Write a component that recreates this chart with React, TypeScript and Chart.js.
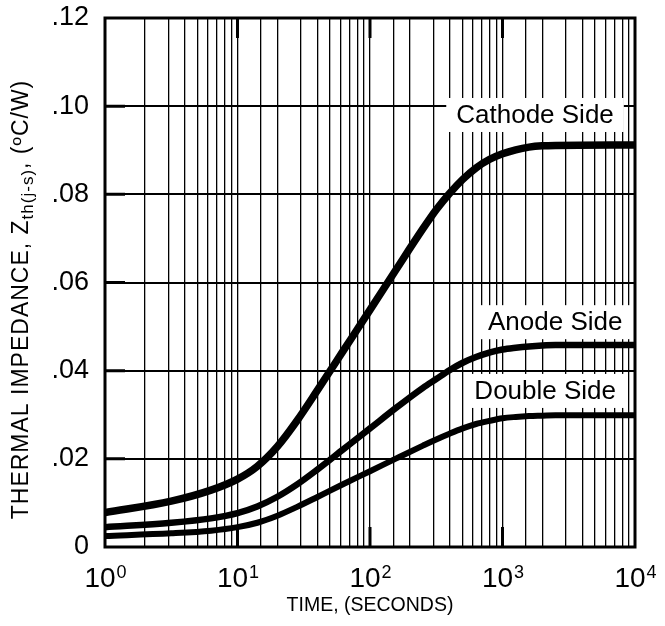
import { useEffect, useRef } from 'react';
import { Chart, registerables } from 'chart.js';

Chart.register(...registerables);

// ---- data ----
const times = [1, 3.16, 6.31, 10, 14.1, 20, 28.2, 39.8, 63.1, 100, 158, 251, 316, 398, 501, 631, 794, 1000, 1259, 1585, 1995, 2512, 10000];
const cathode = [0.0078, 0.0104, 0.0129, 0.0154, 0.0183, 0.0228, 0.0287, 0.0354, 0.0446, 0.0538, 0.0630, 0.0722, 0.0765, 0.0802, 0.0834, 0.0860, 0.0879, 0.0892, 0.0901, 0.0907, 0.0910, 0.0911, 0.0912];
const anode = [0.0045, 0.0055, 0.0065, 0.0077, 0.0092, 0.0114, 0.0142, 0.0175, 0.0222, 0.0269, 0.0316, 0.0361, 0.0381, 0.0401, 0.0418, 0.0431, 0.0441, 0.0448, 0.0452, 0.0455, 0.0457, 0.0458, 0.0458];
const doubleSide = [0.0025, 0.0031, 0.0037, 0.0045, 0.0055, 0.0071, 0.0091, 0.0113, 0.0143, 0.0172, 0.0201, 0.0230, 0.0244, 0.0257, 0.0269, 0.0279, 0.0286, 0.0292, 0.0295, 0.0297, 0.0298, 0.0299, 0.0299];

const seriesNames = ['Cathode Side', 'Anode Side', 'Double Side'];
const labelTimes = [1760, 2500, 2100];
const labelValues = [0.098, 0.051, 0.0354];

const decadeTicks = [1, 10, 100, 1000, 10000];
const decadeExponents = ['0', '1', '2', '3', '4'];

const yTitleMain = 'THERMAL IMPEDANCE, Z';
const yTitleSub = 'th(j-s)';
const yTitleEnd = ', (\u00BAC/W)';
const xTitle = 'TIME, (SECONDS)';

const FONT = '"Liberation Sans", Arial, Helvetica, sans-serif';

const decorPlugin = {
  id: 'decor',
  beforeDatasetsDraw(chart: any) {
    const { ctx, scales } = chart;
    const x = scales.x;
    const y = scales.y;
    ctx.save();
    ctx.font = `26px ${FONT}`;
    ctx.textAlign = 'center';
    ctx.textBaseline = 'middle';
    seriesNames.forEach((t, i) => {
      const cx = x.getPixelForValue(labelTimes[i]);
      const cy = y.getPixelForValue(labelValues[i]);
      const w = ctx.measureText(t).width + 20;
      const h = 34;
      ctx.fillStyle = '#fff';
      ctx.fillRect(cx - w / 2, cy - h / 2, w, h);
      ctx.fillStyle = '#000';
      ctx.fillText(t, cx, cy + 1);
    });
    ctx.restore();
  },
  afterDraw(chart: any) {
    const { ctx, chartArea, scales } = chart;
    const x = scales.x;
    const y = scales.y;
    const { left, right, top, bottom } = chartArea;
    ctx.save();
    // border
    ctx.strokeStyle = '#000';
    ctx.lineWidth = 3;
    ctx.strokeRect(left, top, right - left, bottom - top);
    // inner ticks
    ctx.lineWidth = 3;
    ctx.beginPath();
    y.ticks.forEach((t: any) => {
      if (t.value <= 0 || t.value >= y.max) return;
      const py = y.getPixelForValue(t.value);
      ctx.moveTo(left, py);
      ctx.lineTo(left + 20, py);
    });
    decadeTicks.forEach((v) => {
      if (v === decadeTicks[0] || v === decadeTicks[decadeTicks.length - 1]) return;
      const px = x.getPixelForValue(v);
      ctx.moveTo(px, top);
      ctx.lineTo(px, top + 20);
      ctx.moveTo(px, bottom);
      ctx.lineTo(px, bottom - 20);
    });
    ctx.stroke();

    // x tick labels with superscripts
    ctx.fillStyle = '#000';
    ctx.textBaseline = 'alphabetic';
    ctx.textAlign = 'left';
    decadeTicks.forEach((v, i) => {
      const px = x.getPixelForValue(v);
      ctx.font = `28px ${FONT}`;
      const wMain = ctx.measureText('10').width;
      ctx.font = `18px ${FONT}`;
      const wSup = ctx.measureText(decadeExponents[i]).width;
      const start = px - (wMain + wSup) / 2;
      ctx.font = `28px ${FONT}`;
      ctx.fillText('10', start, bottom + 40);
      ctx.font = `18px ${FONT}`;
      ctx.fillText(decadeExponents[i], start + wMain + 1, bottom + 31);
    });

    // y title with subscript
    const mainSize = 23;
    const subSize = 17;
    (ctx as any).letterSpacing = '1px';
    ctx.font = `${mainSize}px ${FONT}`;
    const w1 = ctx.measureText(yTitleMain).width;
    const w3 = ctx.measureText(yTitleEnd).width;
    ctx.font = `${subSize}px ${FONT}`;
    const w2 = ctx.measureText(yTitleSub).width;
    const total = w1 + w2 + w3;
    ctx.translate(28, (top + bottom) / 2 + 17);
    ctx.rotate(-Math.PI / 2);
    let cur = -total / 2;
    ctx.font = `${mainSize}px ${FONT}`;
    ctx.fillText(yTitleMain, cur, 0);
    cur += w1;
    ctx.font = `${subSize}px ${FONT}`;
    ctx.fillText(yTitleSub, cur, 5);
    cur += w2;
    ctx.font = `${mainSize}px ${FONT}`;
    ctx.fillText(yTitleEnd, cur, 0);
    ctx.restore();
  },
};

export default function App() {
  const ref = useRef<HTMLCanvasElement | null>(null);
  useEffect(() => {
    document.body.style.margin = '0';
    const canvas = ref.current;
    if (!canvas) return;
    const mk = (data: number[]) => times.map((t, i) => ({ x: t, y: data[i] }));
    const chart = new Chart(canvas, {
      type: 'line',
      data: {
        datasets: [
          { label: seriesNames[0], data: mk(cathode), borderColor: '#000', borderWidth: 7.5, pointRadius: 0, cubicInterpolationMode: 'monotone', fill: false },
          { label: seriesNames[1], data: mk(anode), borderColor: '#000', borderWidth: 6.5, pointRadius: 0, cubicInterpolationMode: 'monotone', fill: false },
          { label: seriesNames[2], data: mk(doubleSide), borderColor: '#000', borderWidth: 6, pointRadius: 0, cubicInterpolationMode: 'monotone', fill: false },
        ],
      },
      options: {
        responsive: false,
        animation: false,
        devicePixelRatio: 1,
        layout: { padding: { top: 18, right: 30, left: 0, bottom: 0 } },
        plugins: { legend: { display: false }, tooltip: { enabled: false } },
        scales: {
          x: {
            type: 'logarithmic',
            min: 1,
            max: 10000,
            afterFit: (s: any) => {
              s.height = 79;
              s.paddingLeft = 0;
              s.paddingRight = 0;
            },
            ticks: { display: false },
            grid: { color: '#000', lineWidth: 1.3, drawTicks: false },
            border: { display: false },
            title: {
              display: true,
              text: xTitle,
              color: '#000',
              font: { family: FONT, size: 19.5 },
              padding: { top: 0, bottom: 9 },
            },
          },
          y: {
            type: 'linear',
            min: 0,
            max: 0.12,
            afterFit: (s: any) => {
              s.width = 105;
              s.paddingTop = 0;
              s.paddingBottom = 0;
            },
            ticks: {
              stepSize: 0.02,
              color: '#000',
              padding: 16,
              font: { family: FONT, size: 27 },
              callback: (v: any) => {
                const n = Number(v);
                if (Math.abs(n) < 1e-9) return '0';
                return '.' + String(Math.round(n * 100)).padStart(2, '0');
              },
            },
            grid: { color: '#000', lineWidth: 1.9, drawTicks: false },
            border: { display: false },
          },
        },
      },
      plugins: [decorPlugin],
    } as any);
    return () => chart.destroy();
  }, []);
  return (
    <div style={{ width: 665, height: 626 }}>
      <canvas ref={ref} width={665} height={626} />
    </div>
  );
}
